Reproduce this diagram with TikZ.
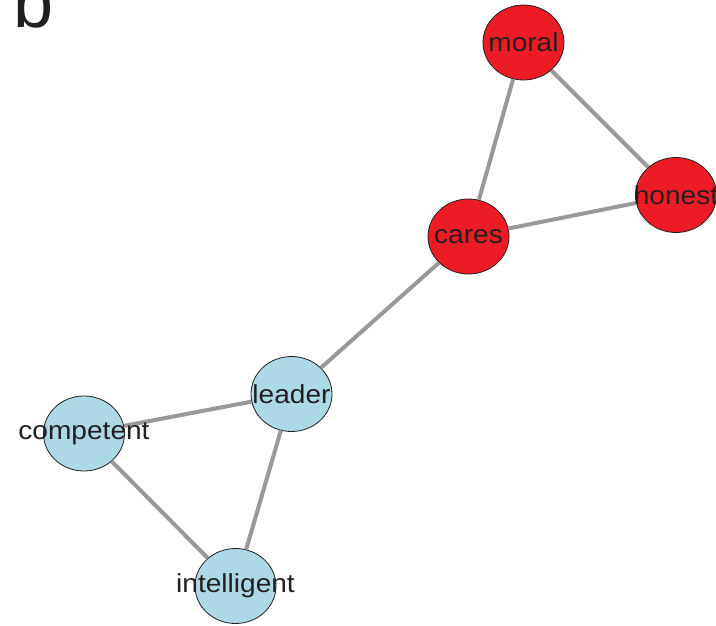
\documentclass[tikz,border=0pt]{standalone}
\usepackage{fontspec}
\setmainfont{Liberation Sans}
\newfontfamily\labelfont[FakeStretch=1.08]{Liberation Sans}
\usetikzlibrary{shapes.geometric}
\definecolor{nodered}{HTML}{ED1C24}
\definecolor{nodeblue}{HTML}{ADD8E6}
\definecolor{edgegray}{HTML}{999999}
\definecolor{ink}{HTML}{231F20}
\tikzset{
  vertex/.style={ellipse, draw=ink, line width=0.8pt, inner sep=0pt,
    minimum width=81pt, minimum height=75pt},
  redv/.style={vertex, fill=nodered},
  bluev/.style={vertex, fill=nodeblue},
  lbl/.style={inner sep=0pt, text=ink, font=\labelfont\fontsize{26}{26}\selectfont},
  tie/.style={draw=edgegray, line width=4pt}
}
\begin{document}
\begin{tikzpicture}[x=1pt,y=-1pt]
  \useasboundingbox (0,0) rectangle (716,625);
  \clip (0,0) rectangle (716,625);
  \fill[white] (0,0) rectangle (716,625);

  % panel letter, its top cut by the page edge
  \node[anchor=base west, inner sep=0pt, text=ink,
    font=\fontsize{72}{72}\selectfont] (panel) at (13,27) {b};

  % vertices
  \node[redv]  (moral)       at (523.5, 42.5) {};
  \node[redv]  (honest)      at (676, 195)    {};
  \node[redv]  (cares)       at (468.5, 236.5) {};
  \node[bluev] (leader)      at (291.5, 394)  {};
  \node[bluev] (competent)   at (84, 433.5)   {};
  \node[bluev] (intelligent) at (235.5, 586)  {};

  % edges
  \path[tie] (moral) -- (cares);
  \path[tie] (moral) -- (honest);
  \path[tie] (cares) -- (honest);
  \path[tie] (cares) -- (leader);
  \path[tie] (leader) -- (competent);
  \path[tie] (leader) -- (intelligent);
  \path[tie] (competent) -- (intelligent);

  % labels
  \node[lbl] at (moral)       {moral};
  \node[lbl] at (honest)      {honest};
  \node[lbl] at (cares)       {cares};
  \node[lbl] at (leader)      {leader};
  \node[lbl] at (competent)   {competent};
  \node[lbl] at (intelligent) {intelligent};
\end{tikzpicture}
\end{document}
